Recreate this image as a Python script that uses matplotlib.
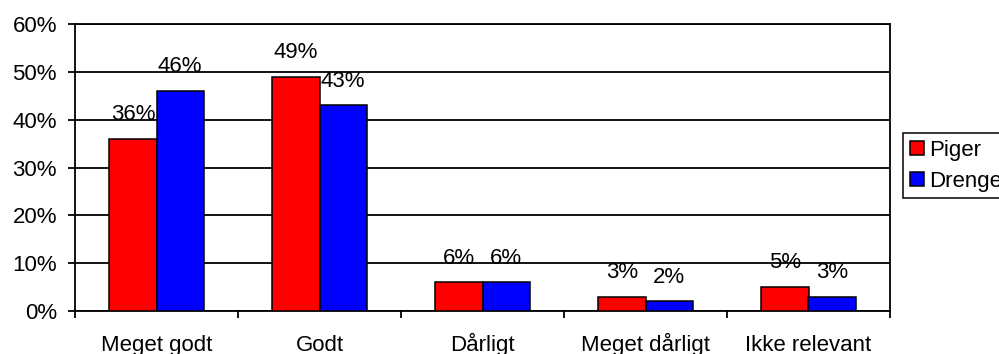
import matplotlib.pyplot as plt
import numpy as np

# Données
categories = ['Meget godt', 'Godt', 'Dårligt', 'Meget dårligt', 'Ikke relevant']
piger = [36, 49, 6, 3, 5]
drenge = [46, 43, 6, 2, 3]
series_names = ['Piger', 'Drenge']
yticks = [0, 10, 20, 30, 40, 50, 60]

plt.rcParams['font.family'] = ['Liberation Sans', 'DejaVu Sans']
plt.rcParams['font.size'] = 16

fig = plt.figure(figsize=(9.99, 3.54), dpi=100)
ax = fig.add_axes([75 / 999, 43 / 354, 815 / 999, 287 / 354])

x = np.arange(len(categories))
w = 0.29
b1 = ax.bar(x - w / 2, piger, w, color='#ff0000', edgecolor='black', linewidth=1.1,
            label=series_names[0], zorder=3)
b2 = ax.bar(x + w / 2, drenge, w, color='#0000ff', edgecolor='black', linewidth=1.1,
            label=series_names[1], zorder=3)

# étiquettes au-dessus des barres
for bars, vals in ((b1, piger), (b2, drenge)):
    for r, v in zip(bars, vals):
        ax.annotate(f'{v}%', (r.get_x() + r.get_width() / 2, r.get_height()),
                    xytext=(0, 13.5), textcoords='offset points',
                    ha='center', va='baseline', fontsize=16, zorder=4)

ax.set_xlim(-0.5, len(categories) - 0.5)
ax.set_ylim(0, 60)
ax.set_yticks(yticks)
ax.set_yticklabels([f'{t}%' for t in yticks])
ax.yaxis.grid(True, color='black', linewidth=1.3, zorder=1)

ax.set_xticks(x)
ax.set_xticklabels(categories)
for lab in ax.get_xticklabels():
    lab.set_verticalalignment('baseline')
ax.set_xticks(np.arange(-0.5, len(categories)), minor=True)
ax.tick_params(axis='x', which='major', length=0, pad=28.5)
ax.tick_params(axis='x', which='minor', length=5, width=1.3, direction='out')
ax.tick_params(axis='y', length=5, width=1.3, pad=8)

for s in ax.spines.values():
    s.set_linewidth(1.3)

leg = fig.legend(loc='upper left', bbox_to_anchor=(903 / 999, 1 - 133 / 354),
                 frameon=True, fancybox=False, edgecolor='black', framealpha=1,
                 handlelength=0.64, handleheight=0.64, handletextpad=0.25,
                 borderpad=0.3, labelspacing=0.45, borderaxespad=0)
leg.get_frame().set_linewidth(1.1)

fig.savefig('out.png', dpi=100)
